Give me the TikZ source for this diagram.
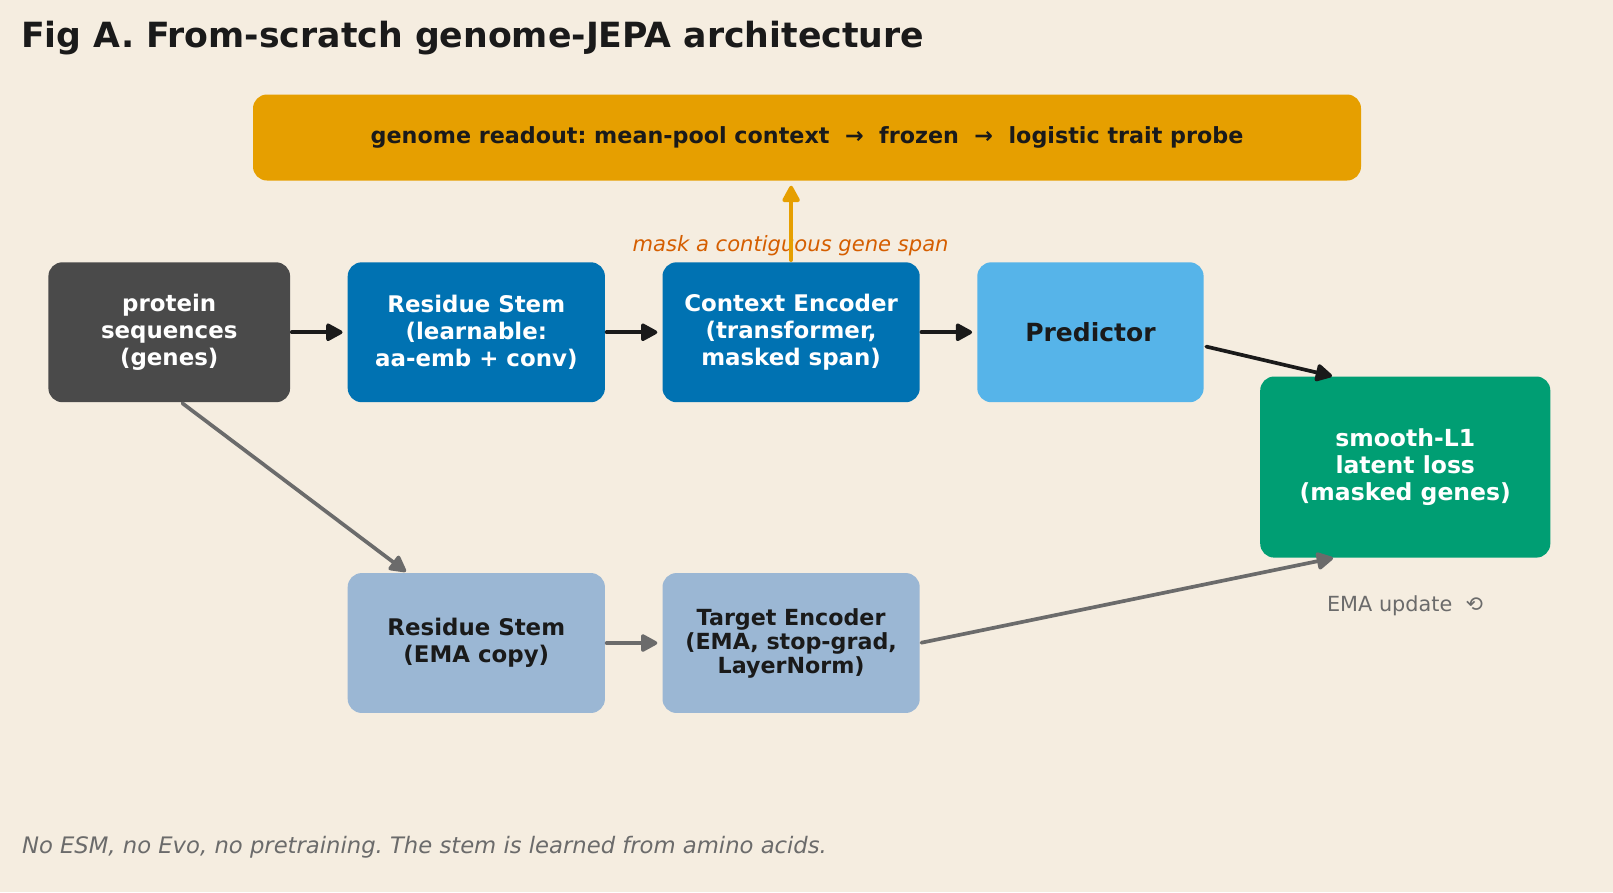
\documentclass[tikz,border=0pt]{standalone}
\usepackage{fontspec}
\setmainfont{DejaVu Sans}
\usetikzlibrary{arrows.meta,calc}
\definecolor{bg}{HTML}{F5EDE0}
\definecolor{ink}{HTML}{1A1A1A}
\definecolor{grayink}{HTML}{6B6B6B}
\definecolor{darkbox}{HTML}{4A4A4A}
\definecolor{okblue}{HTML}{0072B2}
\definecolor{oksky}{HTML}{56B4E9}
\definecolor{okgreen}{HTML}{009E73}
\definecolor{okorange}{HTML}{E69F00}
\definecolor{okverm}{HTML}{D55E00}
\definecolor{steel}{HTML}{9BB7D4}
\frenchspacing
\begin{document}
\begin{tikzpicture}[x=1pt,y=-1pt,
  box/.style={rectangle, rounded corners=14pt, inner sep=0pt, align=center,
    minimum width=257.2pt, minimum height=139.9pt,
    font=\bfseries\fontsize{22.9}{26.8}\selectfont},
  blk/.style={draw=ink, line width=3.7pt, line cap=round,
    -{Triangle[length=18.5pt,width=19pt,round]}, shorten >=5pt, shorten <=1.5pt},
  gry/.style={blk, draw=grayink},
  org/.style={blk, draw=okorange}]
\useasboundingbox[fill=bg] (0,0) rectangle (1613,892);

\node[anchor=base west, text=ink, font=\bfseries\fontsize{34.7}{40}\selectfont] (title) at (17.5,47)
  {Fig A. From-scratch genome-JEPA architecture};

\node[box, fill=okorange, text=ink, minimum width=1108pt, minimum height=86pt,
  font=\bfseries\fontsize{22.25}{26.8}\selectfont] (bar) at (807,137.5)
  {genome readout: mean-pool context \ \textrightarrow\ \ frozen \ \textrightarrow\ \ logistic trait probe};

\node[box, fill=darkbox, text=white, minimum width=241.7pt] (prot) at (169.25,332.25)
  {protein\\sequences\\(genes)};
\node[box, fill=okblue, text=white] (stem) at (476.3,332.25)
  {Residue Stem\\(learnable:\\aa-emb + conv)};
\node[box, fill=okblue, text=white] (ctx) at (791.1,332.25)
  {Context Encoder\\(transformer,\\masked span)};
\node[box, fill=oksky, text=ink, minimum width=226.3pt, font=\bfseries\fontsize{25}{30}\selectfont] (pred) at (1090.45,332.25)
  {Predictor};
\node[box, fill=okgreen, text=white, minimum width=290.1pt, minimum height=181.1pt,
  font=\bfseries\fontsize{23.5}{27.4}\selectfont] (loss) at (1405.25,467.05)
  {smooth-L1\\latent loss\\(masked genes)};
\node[box, fill=steel, text=ink] (ema) at (476.3,643)
  {Residue Stem\\(EMA copy)};
\node[box, fill=steel, text=ink, font=\bfseries\fontsize{22.2}{24}\selectfont] (tgt) at (791.1,643)
  {Target Encoder\\(EMA, stop-grad,\\LayerNorm)};

\node[anchor=base, text=okverm, font=\itshape\fontsize{21.1}{25}\selectfont] (mask) at (790.6,251)
  {mask a contiguous gene span};
\node[anchor=base, text=grayink, font=\fontsize{20.8}{25}\selectfont] (emaupd) at (1405,611)
  {EMA update \ ⟲};
\node[anchor=base west, text=grayink, font=\itshape\fontsize{22.7}{26}\selectfont] (foot) at (18.5,853)
  {No ESM, no Evo, no pretraining. The stem is learned from amino acids.};

\draw[blk] (prot.east) -- (stem.west);
\draw[blk] (stem.east) -- (ctx.west);
\draw[blk] (ctx.east) -- (pred.east -| pred.west);
\draw[blk, shorten >=1pt] ($(pred.east)+(1,14)$) -- ($(loss.north west)+(73,0)$);
\draw[gry, shorten >=2pt] ($(prot.south)+(12,0)$) -- ($(ema.north west)+(60,0)$);
\draw[gry] (ema.east) -- (tgt.west);
\draw[gry, shorten >=1pt] (tgt.east) -- ($(loss.south west)+(74,0)$);
\draw[org, shorten <=2pt] (ctx.north) -- (ctx.north |- bar.south);
\end{tikzpicture}
\end{document}
